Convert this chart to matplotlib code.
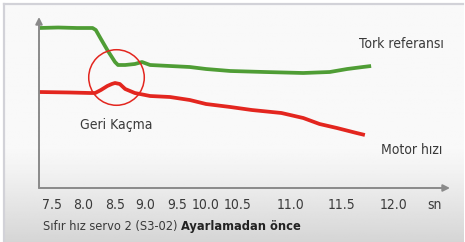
import numpy as np
import matplotlib
matplotlib.use("Agg")
import matplotlib.pyplot as plt
from matplotlib.scale import FuncScale

plt.rcParams['font.family'] = ['DejaVu Sans']
plt.rcParams['font.stretch'] = 'condensed'

# x tick labels (seconds) and where they sit along the axis (the axis is not linear)
tick_values = [7.5, 8.0, 8.5, 9.0, 9.5, 10.0, 10.5, 11.0, 11.5, 12.0]
tick_labels = ["7.5", "8.0", "8.5", "9.0", "9.5", "10.0", "10.5", "11.0", "11.5", "12.0"]
tick_pos = [52, 83, 115, 145, 177, 206, 238, 291, 342, 394]

# Tork referansi
torque_t = [7.29, 7.6, 7.9, 8.15, 8.20, 8.28, 8.38, 8.45, 8.50, 8.55, 8.67, 8.83,
            8.95, 9.08, 9.39, 9.72, 10.0, 10.38, 10.75, 11.12, 11.38, 11.55, 11.70, 11.78]
torque_v = [160, 160.5, 160, 160, 158, 149, 138, 131, 126, 123, 123, 124,
            126, 123, 122, 121, 119, 117, 116, 115, 116, 119, 121, 122]

# Motor hizi
speed_t = [7.29, 7.79, 8.11, 8.19, 8.28, 8.38, 8.45, 8.50, 8.58, 8.67, 8.83, 9.08,
           9.39, 9.72, 10.0, 10.38, 10.63, 10.91, 11.12, 11.28, 11.45, 11.64, 11.72]
speed_v = [96, 95.5, 95, 95, 98, 102, 104, 105, 104, 99, 95, 92,
           91, 88, 84, 81, 78, 75, 70, 64, 60, 55, 53]

backlash_t, backlash_v = 8.52, 111

GREEN = "#4f9d35"
RED = "#e3261f"
TEXT = "#3a3a3a"
AXIS = "#8a8a8a"
FS = 10


def fwd(t):
    t = np.asarray(t, dtype=float)
    p = np.interp(t, tick_values, tick_pos)
    lo = t < tick_values[0]
    hi = t > tick_values[-1]
    p = np.where(lo, tick_pos[0] + (t - tick_values[0]) * (tick_pos[1] - tick_pos[0]) / 0.5, p)
    p = np.where(hi, tick_pos[-1] + (t - tick_values[-1]) * (tick_pos[-1] - tick_pos[-2]) / 0.5, p)
    return p


def inv(p):
    p = np.asarray(p, dtype=float)
    t = np.interp(p, tick_pos, tick_values)
    lo = p < tick_pos[0]
    hi = p > tick_pos[-1]
    t = np.where(lo, tick_values[0] + (p - tick_pos[0]) * 0.5 / (tick_pos[1] - tick_pos[0]), t)
    t = np.where(hi, tick_values[-1] + (p - tick_pos[-1]) * 0.5 / (tick_pos[-1] - tick_pos[-2]), t)
    return t


W, H = 465, 242
fig = plt.figure(figsize=(W / 100, H / 100), dpi=100)
fig.patch.set_facecolor("white")

# background card with a grey gradient at the bottom
bg = fig.add_axes([0, 0, 1, 1])
bg.set_xlim(0, W)
bg.set_ylim(H, 0)
bg.axis("off")
rows = np.linspace(0, 1, H)
shade = np.clip((rows - 0.6) / 0.4, 0, 1) ** 1.2
col = 0.975 - 0.14 * shade
grad = np.repeat(col[:, None], 10, axis=1)
bg.imshow(grad, cmap="gray", vmin=0, vmax=1, extent=[4, W - 2, H, 4], aspect="auto", zorder=0)
bg.plot([4, 4], [4, H], color="#d2d2d8", lw=1.6, zorder=1)
bg.plot([4, W - 2], [4, 4], color="#d2d2d8", lw=1.6, zorder=1)

# plot area
ax = fig.add_axes([39 / W, 1 - 188 / H, (450 - 39) / W, (188 - 17) / H])
ax.patch.set_alpha(0)
ax.set_xscale(FuncScale(ax.xaxis, (fwd, inv)))
ax.set_xlim(inv(39), inv(450))
ax.set_ylim(0, 171)
for s in ax.spines.values():
    s.set_visible(False)

ax.plot(torque_t, torque_v, color=GREEN, lw=2.7, solid_capstyle="butt", zorder=3)
ax.plot(speed_t, speed_v, color=RED, lw=2.7, solid_capstyle="butt", zorder=3)
ax.plot([backlash_t], [backlash_v], marker="o", markersize=40, fillstyle="none",
        markeredgecolor=RED, markeredgewidth=1.1, zorder=4)

ax.set_xticks(tick_values + [float(inv(434))])
ax.set_xticklabels(tick_labels + ["sn"])
ax.set_yticks([])
ax.tick_params(axis="x", length=0, pad=7, labelsize=FS, labelcolor=TEXT)

ax.annotate("", xy=(1, 0), xytext=(0, 0), xycoords="axes fraction",
            arrowprops=dict(arrowstyle="-|>", color=AXIS, lw=1.4, mutation_scale=10,
                            shrinkA=0, shrinkB=0))
ax.annotate("", xy=(0, 1), xytext=(0, 0), xycoords="axes fraction",
            arrowprops=dict(arrowstyle="-|>", color=AXIS, lw=1.4, mutation_scale=10,
                            shrinkA=0, shrinkB=0))

ax.text(float(inv(401)), 144, "Tork referansı", fontsize=FS, color=TEXT, va="center", ha="center")
ax.text(backlash_t, 63, "Geri Kaçma", fontsize=FS, color=TEXT, va="center", ha="center")
ax.text(float(inv(412)), 38, "Motor hızı", fontsize=FS, color=TEXT, va="center", ha="center")

# caption, normal part then bold part
CFS = 9.2
t1 = fig.text(43 / W, 1 - 230 / H, "Sıfır hız servo 2 (S3-02) ", fontsize=CFS,
              color=TEXT, va="baseline", ha="left")
fig.canvas.draw()
bb = t1.get_window_extent()
fig.text(bb.x1 / W, 1 - 230 / H, "Ayarlamadan önce", fontsize=CFS, fontweight="bold",
         color="#222222", va="baseline", ha="left")

fig.savefig("out.png", dpi=100, facecolor=fig.get_facecolor())
